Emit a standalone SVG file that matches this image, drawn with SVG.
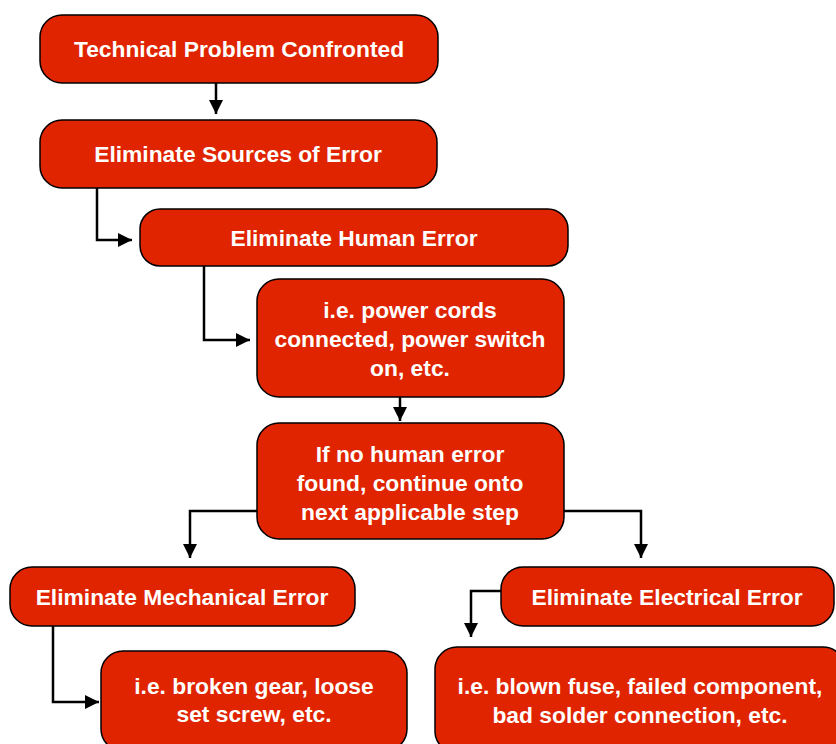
<svg xmlns="http://www.w3.org/2000/svg" width="836" height="744" viewBox="0 0 836 744">
<style>
.box{fill:#e02400;stroke:#000;stroke-width:1.5}
.t{font-family:"Liberation Sans",Arial,Helvetica,sans-serif;font-weight:bold;font-size:22.8px;fill:#fff;text-anchor:middle}
.c{fill:none;stroke:#000;stroke-width:2.5}
</style>
<defs>
<marker id="ah" viewBox="0 0 10 10" refX="10" refY="5" markerWidth="5.6" markerHeight="5.6" markerUnits="strokeWidth" orient="auto">
<path d="M0,0 L10,5 L0,10 z" fill="#000"/>
</marker>
</defs>
<rect width="836" height="744" fill="#fff"/>
<g id="connectors">
<path class="c" d="M216,83 V114" marker-end="url(#ah)"/>
<path class="c" d="M97,188 V240 H132" marker-end="url(#ah)"/>
<path class="c" d="M204,266 V340 H250" marker-end="url(#ah)"/>
<path class="c" d="M400,397 V421" marker-end="url(#ah)"/>
<path class="c" d="M257,511 H190 V558" marker-end="url(#ah)"/>
<path class="c" d="M564,511 H641 V558" marker-end="url(#ah)"/>
<path class="c" d="M53,626 V702 H99" marker-end="url(#ah)"/>
<path class="c" d="M501,591 H471 V637" marker-end="url(#ah)"/>
</g>
<g id="n1"><rect class="box" x="40" y="15" width="398" height="68" rx="22"/><text class="t" x="239" y="57">Technical Problem Confronted</text></g>
<g id="n2"><rect class="box" x="40" y="120" width="397" height="68" rx="22"/><text class="t" x="238" y="162">Eliminate Sources of Error</text></g>
<g id="n3"><rect class="box" x="140" y="209" width="428" height="57" rx="20"/><text class="t" x="354" y="246">Eliminate Human Error</text></g>
<g id="n4"><rect class="box" x="257" y="279" width="307" height="118" rx="22"/><text class="t" x="410" y="318">i.e. power cords</text><text class="t" x="410" y="347">connected, power switch</text><text class="t" x="410" y="376">on, etc.</text></g>
<g id="n5"><rect class="box" x="257" y="423" width="307" height="116" rx="22"/><text class="t" x="410" y="462">If no human error</text><text class="t" x="410" y="491">found, continue onto</text><text class="t" x="410" y="520">next applicable step</text></g>
<g id="n6"><rect class="box" x="10" y="567" width="345" height="59" rx="22"/><text class="t" x="182" y="605">Eliminate Mechanical Error</text></g>
<g id="n7"><rect class="box" x="501" y="567" width="333" height="59" rx="22"/><text class="t" x="667" y="605">Eliminate Electrical Error</text></g>
<g id="n8"><rect class="box" x="101" y="651" width="306" height="100" rx="22"/><text class="t" x="254" y="694">i.e. broken gear, loose</text><text class="t" x="254" y="722">set screw, etc.</text></g>
<g id="n9"><rect class="box" x="435" y="647" width="410" height="106" rx="22"/><text class="t" x="640" y="694">i.e. blown fuse, failed component,</text><text class="t" x="640" y="723">bad solder connection, etc.</text></g>
</svg>
